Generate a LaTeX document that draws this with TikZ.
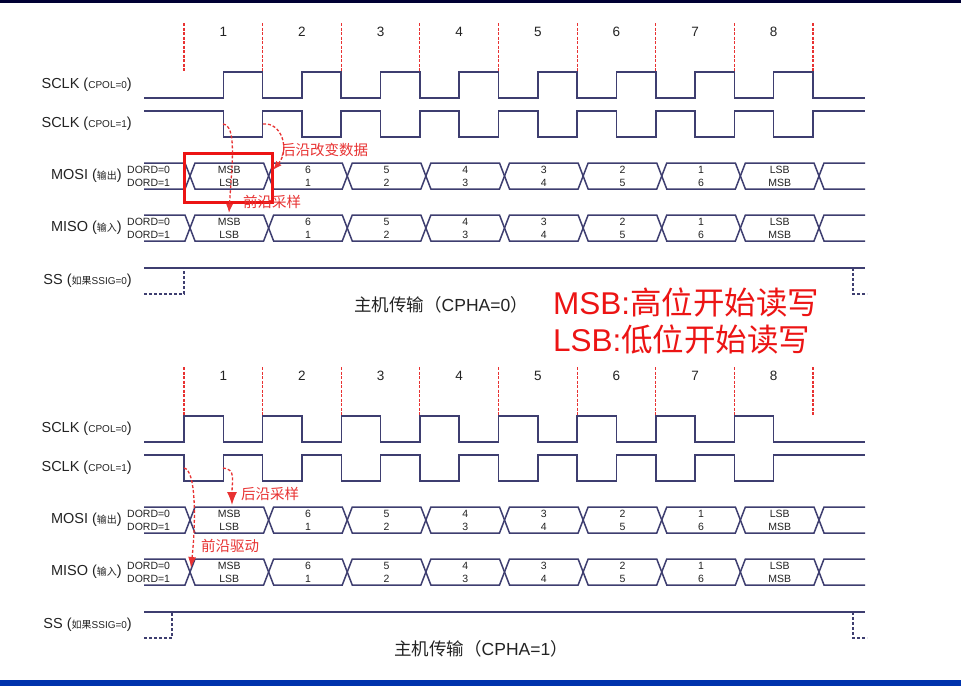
\documentclass[tikz,border=0pt]{standalone}
\usepackage{fontspec}
\setmainfont{Liberation Sans}
\newfontfamily\cjk{Noto Sans CJK SC}
\usetikzlibrary{arrows.meta}
\definecolor{wavecol}{RGB}{62,62,112}
\definecolor{txtcol}{RGB}{35,35,35}
\definecolor{annred}{RGB}{232,50,50}
\definecolor{boxred}{RGB}{236,20,20}
\newcommand\lbsmall[1]{{\fontsize{10}{12}\selectfont #1}}
\tikzset{
  wave/.style={wavecol,line width=1.5pt},
  clkline/.style={annred,dash pattern=on 3pt off 1.5pt,line width=1.2pt},
  signame/.style={anchor=east,inner sep=0pt,text=txtcol,font=\fontsize{14.5}{16}\selectfont},
  numtxt/.style={inner sep=0pt,text=txtcol,font=\fontsize{13.5}{15}\selectfont},
  dordtxt/.style={anchor=west,inner sep=0pt,text=txtcol,font=\fontsize{10.5}{12}\selectfont},
  celltxt/.style={inner sep=0pt,text=txtcol,font=\fontsize{10.5}{12}\selectfont},
  captxt/.style={inner sep=0pt,text=txtcol,font=\fontsize{17.5}{19}\selectfont},
  anntxt/.style={anchor=west,inner sep=0pt,text=annred,font=\cjk\fontsize{14.5}{16}\selectfont},
  bigtxt/.style={anchor=west,inner sep=0pt,text=boxred,font=\fontsize{31.5}{34}\selectfont},
  redarr/.style={annred,densely dashed,line width=1.3pt},
}
\begin{document}
\begin{tikzpicture}[x=1pt,y=-1pt,line join=miter]
	\def\per{78.625} \def\hp{39.31}
	\useasboundingbox (0,0) rectangle (961,686);
	\fill[white] (0,0) rectangle (961,686);
	\fill[black!80!blue] (0,0) rectangle (961,2.5);
	\fill[blue!60!black!80!cyan] (0,680) rectangle (961,686);
	% the two transfers: CPHA=0 above, CPHA=1 below
	\foreach \dy/\ph/\sx/\cx/\cp in {0/1/184/441/0,344/0/172/481/1}{
	\begin{scope}[shift={(0,\dy)}]
		\foreach \i in {0,...,8}
		\draw[clkline] ({184+\i*\per},23) -- ({184+\i*\per},72);
		\foreach \i in {1,...,8}
		\node[numtxt] (n\cp-\i) at ({184+(\i-0.5)*\per},32) {\i};
		\node[signame] (clka\cp) at (132,85) {SCLK (\lbsmall{CPOL=0})};
		\node[signame] (clkb\cp) at (132,124) {SCLK (\lbsmall{CPOL=1})};
		\node[signame] (mosi\cp) at (122,176) {MOSI ({\cjk\lbsmall{输出}})};
		\node[signame] (miso\cp) at (122,228) {MISO ({\cjk\lbsmall{输入}})};
		\node[signame] (ss\cp) at (132,281) {SS ({\cjk\lbsmall{如果}}\lbsmall{SSIG=0})};
		\draw[wave] (144,98) \foreach \i in {0,...,7}{
			-- ({184+\ph*\hp+\i*\per},98) -- ({184+\ph*\hp+\i*\per},72)
			-- ({184+(\ph+1)*\hp+\i*\per},72) -- ({184+(\ph+1)*\hp+\i*\per},98)} -- (865,98);
		\draw[wave] (144,111) \foreach \i in {0,...,7}{
			-- ({184+\ph*\hp+\i*\per},111) -- ({184+\ph*\hp+\i*\per},137)
			-- ({184+(\ph+1)*\hp+\i*\per},137) -- ({184+(\ph+1)*\hp+\i*\per},111)} -- (865,111);
		\foreach \by/\bn in {163/mo,215/mi}{
			\draw[wave] (144,\by) -- (185,\by) -- (190,\by+13) -- (185,\by+26) -- (144,\by+26);
			\foreach \i in {0,...,7}
			\draw[wave] ({190+\i*\per},\by+13) -- ({195+\i*\per},\by) -- ({185+(\i+1)*\per},\by)
				-- ({190+(\i+1)*\per},\by+13) -- ({185+(\i+1)*\per},\by+26) -- ({195+\i*\per},\by+26) -- cycle;
			\draw[wave] (865,\by) -- ({195+8*\per},\by) -- ({190+8*\per},\by+13)
				-- ({195+8*\per},\by+26) -- (865,\by+26);
			\node[dordtxt] (\bn\cp d0) at (127,\by+7) {DORD=0};
			\node[dordtxt] (\bn\cp d1) at (127,\by+20) {DORD=1};
			\foreach \t/\b [count=\i from 0] in {MSB/LSB,6/1,5/2,4/3,3/4,2/5,1/6,LSB/MSB}{
				\node[celltxt] (\bn\cp t\i) at ({229.3+\i*\per},\by+7) {\t};
				\node[celltxt] (\bn\cp b\i) at ({229.3+\i*\per},\by+20) {\b};
			}
		}
		\draw[wave] (144,268) -- (865,268);
		\draw[wave,densely dashed] (144,294) -- (\sx,294) -- (\sx,268);
		\draw[wave,densely dashed] (853,268) -- (853,294) -- (867,294);
		\node[captxt] (cap\cp) at (\cx,305) {{\cjk 主机传输（}CPHA=\cp{\cjk ）}};
	\end{scope}
	}
	% notes on the CPHA=0 transfer
	\draw[boxred,line width=3pt] (184,153) rectangle (272,202);
	\coordinate (fa) at (223,124); \coordinate (fb) at (229,213);
	\coordinate (ra) at (263,124); \coordinate (rb) at (273,170);
	\draw[redarr,-{Latex[length=9pt,width=7pt]}] (fa) .. controls +(14,2) and +(3,-50) .. (fb);
	\draw[redarr,-{Latex[length=9pt,width=7pt]}] (ra) .. controls +(19,-2) and +(17,-20) .. (rb);
	\node[anntxt] (chg) at (281,150) {后沿改变数据};
	\node[anntxt] (smp) at (243,202) {前沿采样};
	% notes on the CPHA=1 transfer
	\coordinate (ga) at (223,468); \coordinate (gb) at (232,505);
	\coordinate (ha) at (184,468); \coordinate (hb) at (191,568);
	\draw[redarr,-{Latex[length=13pt,width=10pt]}] (ga) .. controls +(13,1) and +(0,-25) .. (gb);
	\draw[redarr,-{Latex[length=11pt,width=8pt]}] (ha) .. controls +(12,2) and +(5,-48) .. (hb);
	\node[anntxt] (smp2) at (241,494) {后沿采样};
	\node[anntxt] (drv) at (201,546) {前沿驱动};
	% MSB / LSB
	\node[bigtxt] (msb) at (553,302) {MSB:{\cjk 高位开始读写}};
	\node[bigtxt] (lsb) at (553,339) {LSB:{\cjk 低位开始读写}};
\end{tikzpicture}
\end{document}
